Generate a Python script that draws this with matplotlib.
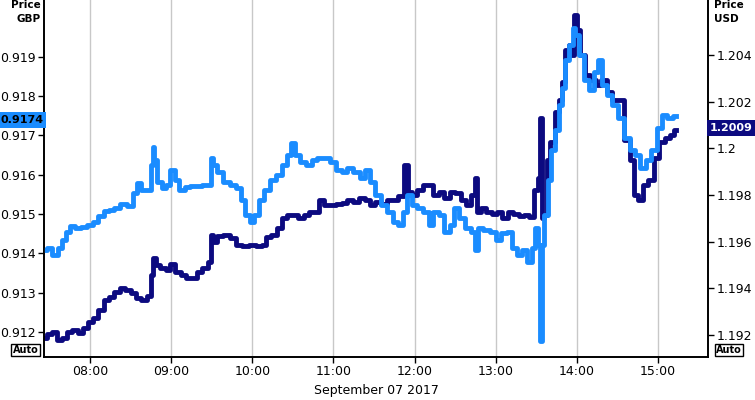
import matplotlib
matplotlib.use("Agg")
import matplotlib.pyplot as plt
import matplotlib.dates as mdates
import pandas as pd

# EUR/GBP (left axis, light blue)
gbp_times = ["07:26", "07:30", "07:34", "07:38", "07:41", "07:44", "07:47", "07:51", "07:55", "08:00",
             "08:04", "08:08", "08:12", "08:16", "08:20", "08:25", "08:30", "08:34", "08:36", "08:40",
             "08:44", "08:46", "08:47", "08:48", "08:51", "08:55", "08:58", "09:01", "09:04", "09:08",
             "09:12", "09:16", "09:20", "09:25", "09:29", "09:30", "09:32", "09:36", "09:41", "09:46",
             "09:50", "09:53", "09:57", "10:00", "10:03", "10:07", "10:11", "10:15", "10:20", "10:24",
             "10:28", "10:30", "10:33", "10:37", "10:42", "10:46", "10:50", "10:55", "11:00", "11:04",
             "11:08", "11:12", "11:17", "11:22", "11:25", "11:29", "11:33", "11:37", "11:42", "11:46",
             "11:50", "11:53", "11:56", "12:00", "12:04", "12:09", "12:12", "12:16", "12:20", "12:24",
             "12:28", "12:31", "12:35", "12:40", "12:44", "12:46", "12:48", "12:53", "12:58", "13:02",
             "13:06", "13:10", "13:14", "13:18", "13:21", "13:25", "13:28", "13:30", "13:32", "13:34",
             "13:35", "13:37", "13:40", "13:42", "13:45", "13:48", "13:50", "13:53", "13:56", "13:58",
             "14:00", "14:03", "14:07", "14:11", "14:15", "14:17", "14:20", "14:24", "14:28", "14:33",
             "14:37", "14:41", "14:45", "14:49", "14:53", "14:57", "15:01", "15:05", "15:09", "15:13"]
gbp_values = [0.91408, 0.91413, 0.91395, 0.91413, 0.91433, 0.91454, 0.91469, 0.91464, 0.91467, 0.91472,
              0.91479, 0.91495, 0.91508, 0.91510, 0.91515, 0.91525, 0.91520, 0.91553, 0.91579, 0.91561,
              0.91561, 0.91625, 0.91670, 0.91637, 0.91581, 0.91566, 0.91574, 0.91612, 0.91586, 0.91561,
              0.91568, 0.91571, 0.91571, 0.91574, 0.91574, 0.91642, 0.91625, 0.91607, 0.91581, 0.91574,
              0.91566, 0.91535, 0.91497, 0.91479, 0.91497, 0.91535, 0.91561, 0.91586, 0.91599, 0.91625,
              0.91650, 0.91681, 0.91650, 0.91632, 0.91625, 0.91637, 0.91642, 0.91642, 0.91632, 0.91612,
              0.91607, 0.91617, 0.91607, 0.91591, 0.91612, 0.91581, 0.91548, 0.91523, 0.91505, 0.91479,
              0.91472, 0.91505, 0.91548, 0.91523, 0.91515, 0.91505, 0.91472, 0.91505, 0.91497, 0.91454,
              0.91472, 0.91515, 0.91489, 0.91464, 0.91454, 0.91408, 0.91464, 0.91459, 0.91454, 0.91433,
              0.91451, 0.91454, 0.91413, 0.91395, 0.91408, 0.91377, 0.91413, 0.91464, 0.91421, 0.91178,
              0.91421, 0.91497, 0.91586, 0.91663, 0.91714, 0.91778, 0.91821, 0.91892, 0.91930, 0.91974,
              0.91956, 0.91905, 0.91841, 0.91816, 0.91862, 0.91892, 0.91828, 0.91803, 0.91778, 0.91744,
              0.91693, 0.91663, 0.91650, 0.91617, 0.91637, 0.91663, 0.91719, 0.91752, 0.91744, 0.91750]

# EUR/USD (right axis, navy)
usd_times = ["07:26", "07:30", "07:34", "07:37", "07:41", "07:45", "07:49", "07:53", "07:57", "08:00",
             "08:04", "08:08", "08:12", "08:16", "08:20", "08:24", "08:28", "08:32", "08:36", "08:40",
             "08:44", "08:46", "08:47", "08:50", "08:54", "08:58", "09:01", "09:05", "09:09", "09:13",
             "09:17", "09:21", "09:25", "09:29", "09:30", "09:32", "09:36", "09:41", "09:46", "09:50",
             "09:55", "10:00", "10:05", "10:09", "10:12", "10:16", "10:20", "10:24", "10:28", "10:32",
             "10:36", "10:40", "10:44", "10:48", "10:51", "10:55", "11:00", "11:04", "11:08", "11:12",
             "11:17", "11:21", "11:25", "11:29", "11:33", "11:38", "11:42", "11:46", "11:50", "11:54",
             "11:56", "12:00", "12:04", "12:08", "12:12", "12:16", "12:20", "12:24", "12:28", "12:32",
             "12:36", "12:40", "12:44", "12:45", "12:47", "12:51", "12:55", "12:59", "13:03", "13:07",
             "13:11", "13:15", "13:19", "13:23", "13:27", "13:30", "13:32", "13:34", "13:35", "13:37",
             "13:39", "13:42", "13:45", "13:48", "13:50", "13:53", "13:55", "13:57", "13:59", "14:01",
             "14:04", "14:08", "14:12", "14:16", "14:20", "14:24", "14:28", "14:33", "14:37", "14:41",
             "14:44", "14:47", "14:51", "14:55", "14:59", "15:03", "15:07", "15:11", "15:13"]
usd_values = [1.19188, 1.19205, 1.19213, 1.19179, 1.19188, 1.19213, 1.19222, 1.19209, 1.19230, 1.19256,
              1.19274, 1.19308, 1.19351, 1.19364, 1.19385, 1.19402, 1.19394, 1.19381, 1.19360, 1.19351,
              1.19368, 1.19458, 1.19531, 1.19501, 1.19488, 1.19479, 1.19505, 1.19471, 1.19458, 1.19445,
              1.19445, 1.19471, 1.19488, 1.19514, 1.19629, 1.19599, 1.19625, 1.19629, 1.19616, 1.19586,
              1.19582, 1.19586, 1.19582, 1.19586, 1.19620, 1.19629, 1.19659, 1.19702, 1.19715, 1.19715,
              1.19702, 1.19715, 1.19728, 1.19728, 1.19779, 1.19758, 1.19758, 1.19762, 1.19766, 1.19779,
              1.19770, 1.19788, 1.19779, 1.19758, 1.19770, 1.19762, 1.19779, 1.19779, 1.19796, 1.19929,
              1.19813, 1.19800, 1.19822, 1.19843, 1.19843, 1.19800, 1.19813, 1.19788, 1.19813, 1.19809,
              1.19779, 1.19758, 1.19800, 1.19873, 1.19728, 1.19745, 1.19728, 1.19719, 1.19728, 1.19702,
              1.19728, 1.19719, 1.19711, 1.19715, 1.19706, 1.19822, 1.19873, 1.20130, 1.19702, 1.19715,
              1.19950, 1.20027, 1.20156, 1.20207, 1.20284, 1.20421, 1.20443, 1.20400, 1.20571, 1.20507,
              1.20400, 1.20314, 1.20293, 1.20271, 1.20293, 1.20242, 1.20207, 1.20207, 1.20036, 1.19950,
              1.19800, 1.19779, 1.19843, 1.19865, 1.19959, 1.20027, 1.20045, 1.20057, 1.20079]

gbp_ticks = [0.912, 0.913, 0.914, 0.915, 0.916, 0.917, 0.918, 0.919]
usd_ticks = [1.192, 1.194, 1.196, 1.198, 1.2, 1.202, 1.204]
usd_tick_labels = ["1.192", "1.194", "1.196", "1.198", "1.2", "1.202", "1.204"]
gbp_last = "0.9174"
usd_last = "1.2009"

day = "2017-09-07 "
gbp_t = pd.to_datetime([day + t for t in gbp_times])
usd_t = pd.to_datetime([day + t for t in usd_times])

light = "#1a8cff"
navy = "#0c0a80"

plt.rcParams["font.family"] = "DejaVu Sans"
fig = plt.figure(figsize=(7.55, 4.0), dpi=100)
ax2 = fig.add_axes([44 / 755, 43 / 400, 664 / 755, 357 / 400])
ax1 = ax2.twinx()
# left axis on ax1 (drawn on top), right axis on ax2
ax1.yaxis.tick_left()
ax2.yaxis.tick_right()
ax1.set_zorder(ax2.get_zorder() + 1)
ax1.patch.set_visible(False)

ax2.plot(usd_t, usd_values, color=navy, lw=3.5, drawstyle="steps-mid")
ax1.plot(gbp_t, gbp_values, color=light, lw=3.5, drawstyle="steps-mid")

ax2.set_xlim(pd.Timestamp(day + "07:26"), pd.Timestamp(day + "15:37"))
ax1.set_ylim(0.91136, 0.92045)
ax2.set_ylim(1.19106, 1.20636)

ax2.xaxis.set_major_locator(mdates.HourLocator())
ax2.xaxis.set_major_formatter(mdates.DateFormatter("%H:%M"))
ax2.grid(axis="x", color="#c8c8c8", lw=1)
ax2.set_xlabel("September 07 2017", fontsize=9, labelpad=4)

ax1.set_yticks(gbp_ticks)
ax1.set_yticklabels([f"{v:.3f}" for v in gbp_ticks])
ax2.set_yticks(usd_ticks)
ax2.set_yticklabels(usd_tick_labels)

for a in (ax1, ax2):
    a.spines["top"].set_visible(False)
    for s in ("left", "right", "bottom"):
        a.spines[s].set_linewidth(1.2)
    a.tick_params(labelsize=9, length=4, width=1, pad=2, colors="black")

# axis titles
fig.text(41 / 755, 1 - 5 / 400, "Price", ha="right", va="center", fontsize=7.5, fontweight="bold")
fig.text(41 / 755, 1 - 19 / 400, "GBP", ha="right", va="center", fontsize=7.5, fontweight="bold")
fig.text(714 / 755, 1 - 5 / 400, "Price", ha="left", va="center", fontsize=7.5, fontweight="bold")
fig.text(714 / 755, 1 - 19 / 400, "USD", ha="left", va="center", fontsize=7.5, fontweight="bold")

# last value markers
fig.text(22 / 755, 1 - 120 / 400, gbp_last, ha="center", va="center", fontsize=8, fontweight="bold",
         color="black", bbox=dict(boxstyle="square,pad=0.25", fc=light, ec="none"))
fig.text(731 / 755, 1 - 128 / 400, usd_last, ha="center", va="center", fontsize=8, fontweight="bold",
         color="white", bbox=dict(boxstyle="square,pad=0.25", fc=navy, ec="none"))

# auto boxes
for xc in (25.5, 729):
    fig.text(xc / 755, 1 - 350 / 400, "Auto", ha="center", va="center", fontsize=7, fontweight="bold",
             bbox=dict(boxstyle="square,pad=0.15", fc="white", ec="black", lw=1))

fig.savefig("out.png", dpi=100)
